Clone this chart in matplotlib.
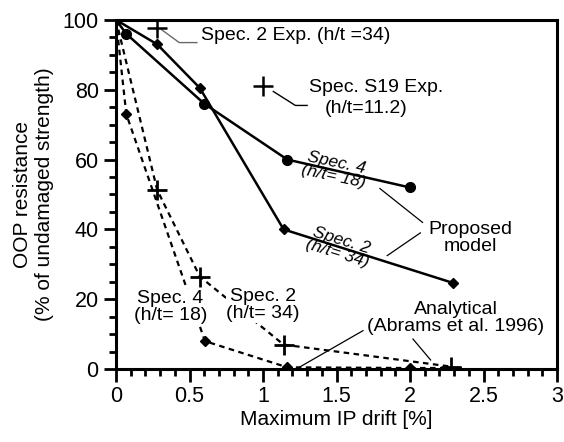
import numpy as np
import matplotlib.pyplot as plt
from matplotlib.ticker import MultipleLocator

plt.rcParams['font.family'] = ['Liberation Sans', 'DejaVu Sans']

## DATA

# proposed model (solid lines)
model4_drift = [0, 0.07, 0.6, 1.165, 2.0]
model4_oop = [100, 96, 76, 60, 52]
model2_drift = [0, 0.28, 0.57, 1.14, 2.29]
model2_oop = [100, 93, 80.5, 40, 24.7]

# analytical, Abrams et al. 1996 (dashed lines)
abr4_drift = [0, 0.07, 0.605, 1.165, 2.0]
abr4_oop = [100, 73, 8, 0.5, 0.3]
abr2_drift = [0, 0.28, 0.57, 1.14, 2.28]
abr2_oop = [100, 51.3, 26.5, 7, 0.7]

# experimental points
exp_drift = [0.28, 1.0]
exp_oop = [97.6, 81]

## PLOT
fig = plt.figure(figsize=(5.64, 4.42), dpi=100)
ax = fig.add_axes([0.2057, 0.165, 0.782, 0.790])

ax.plot(model4_drift, model4_oop, '-', color='black', lw=1.8,
        marker='o', ms=7, zorder=3)
ax.plot(model2_drift, model2_oop, '-', color='black', lw=1.8,
        marker='D', ms=5, zorder=3)
ax.plot(abr4_drift, abr4_oop, '--', color='black', lw=1.6, dashes=(2.5, 2),
        marker='D', ms=5, zorder=2)
ax.plot(abr2_drift, abr2_oop, '--', color='black', lw=1.6, dashes=(2.5, 2),
        marker='+', ms=14, mew=2, zorder=2)
ax.plot([2.0, 2.35], [0.3, 0.3], '--', color='black', lw=1.6, dashes=(2.5, 2), zorder=2)
ax.plot(exp_drift, exp_oop, '+', color='black', ms=14, mew=1.8, linestyle='none', zorder=3)

# text labels
fs = 14
ax.text(0.58, 95.5, 'Spec. 2 Exp. (h/t =34)', fontsize=fs, va='center', ha='left')
ax.plot([0.31, 0.43, 0.55], [97.2, 93.5, 93.5], color='dimgray', lw=1)

ax.text(1.31, 80.5, 'Spec. S19 Exp.', fontsize=fs, va='center', ha='left')
ax.text(1.70, 74.5, '(h/t=11.2)', fontsize=fs, va='center', ha='center')
ax.plot([1.07, 1.22, 1.30], [79.5, 75.5, 75.5], color='black', lw=1)

ax.text(1.49, 57.0, 'Spec. 4\n(h/t= 18)', fontsize=12.5, style='italic',
        ha='center', va='center', rotation=-12, linespacing=0.9)
ax.text(1.52, 35.0, 'Spec. 2\n(h/t= 34)', fontsize=12.5, style='italic',
        ha='center', va='center', rotation=-17, linespacing=0.9)

ax.text(2.41, 37.5, 'Proposed\nmodel', fontsize=fs, ha='center', va='center',
        linespacing=1.0)
ax.plot([1.795, 2.085], [51.7, 42], color='black', lw=0.9)
ax.plot([1.845, 2.07], [32.5, 39], color='black', lw=0.9)

ax.text(2.31, 14.5, 'Analytical\n(Abrams et al. 1996)', fontsize=fs,
        ha='center', va='center', linespacing=1.0)
ax.plot([1.25, 1.68], [0.6, 11.0], color='black', lw=0.9)
ax.plot([2.02, 2.14], [8.6, 2.6], color='black', lw=0.9)

bb = dict(facecolor='white', edgecolor='none', pad=0.5)
ax.text(0.37, 17.8, 'Spec. 4\n(h/t= 18)', fontsize=fs, ha='center', va='center',
        linespacing=1.0, bbox=bb, zorder=4)
ax.text(1.0, 18.3, 'Spec. 2\n(h/t= 34)', fontsize=fs, ha='center', va='center',
        linespacing=1.0, bbox=bb, zorder=4)

## AXES
ax.set_xlim(0, 3)
ax.set_ylim(0, 100)
ax.xaxis.set_major_locator(MultipleLocator(0.5))
ax.xaxis.set_minor_locator(MultipleLocator(0.1))
ax.yaxis.set_major_locator(MultipleLocator(20))
ax.yaxis.set_minor_locator(MultipleLocator(5))
ax.set_xticks([0, 0.5, 1, 1.5, 2, 2.5, 3])
ax.set_xticklabels(['0', '0.5', '1', '1.5', '2', '2.5', '3'])
ax.tick_params(which='major', direction='out', length=9, width=2, labelsize=15.5)
ax.tick_params(which='minor', direction='out', length=5, width=2)
for s in ax.spines.values():
    s.set_linewidth(2.2)

ax.set_xlabel('Maximum IP drift [%]', fontsize=15, labelpad=2)
ax.set_ylabel('OOP resistance\n(% of undamaged strength)', fontsize=15, labelpad=6)

fig.savefig('out.png', dpi=100)
